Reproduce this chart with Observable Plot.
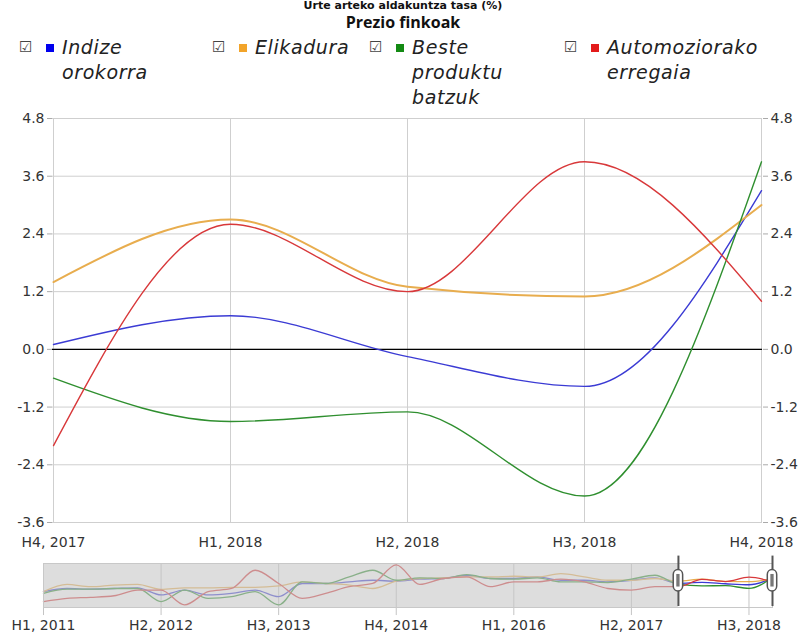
<!DOCTYPE html>
<html><head><meta charset="utf-8">
<script src="https://cdn.jsdelivr.net/npm/d3@7"></script>
<script src="https://cdn.jsdelivr.net/npm/@observablehq/plot@0.6"></script>
<style>
body{margin:0;width:806px;height:637px;overflow:hidden;background:#fff;position:relative;font-family:"DejaVu Sans",Verdana,sans-serif;}
#title{position:absolute;left:0;width:806px;top:0px;text-align:center;font:bold 11px/12px "DejaVu Sans";color:#111;white-space:nowrap;}
#subtitle{position:absolute;left:0;width:806px;top:13px;text-align:center;font:bold 16px/18px "Open Sans";color:#111;}
.leg{position:absolute;top:35px;font:italic 19px "DejaVu Sans";letter-spacing:0.6px;line-height:25px;color:#222;}
.leg .cb{position:absolute;left:-3px;top:3px;font:normal 15px "DejaVu Sans";color:#444;letter-spacing:0;}
.leg .sq{position:absolute;left:24px;top:9px;width:8px;height:8px;}
.leg .tx{position:absolute;left:40px;top:0;white-space:nowrap;}
#main{position:absolute;left:0;top:110px;}
#nav{position:absolute;left:0;top:548px;}
</style></head><body>
<div id="title">Urte arteko aldakuntza tasa (%)</div>
<div id="subtitle">Prezio finkoak</div>
<div id="legend"></div>
<div id="main"></div>
<div id="nav"></div>
<script>
// ---- data ----
const seriesNames = ["Indize orokorra","Elikadura","Beste produktu batzuk","Automoziorako erregaia"];
const legendLines = [["Indize","orokorra"],["Elikadura"],["Beste","produktu","batzuk"],["Automoziorako","erregaia"]];
const lineColors = ["#3b3bd4","#e8ad4e","#2f8f2f","#d8383a"];
const swatchColors = ["#0000ee","#f2a42a","#138a13","#e31b1b"];
const lineWidths = [1.4, 2, 1.4, 1.4];

const periods = ["H4, 2017","H1, 2018","H2, 2018","H3, 2018","H4, 2018"];
const indize    = [0.1, 0.7, -0.15, -0.77, 3.3];
const elikadura = [1.4, 2.7, 1.3, 1.1, 3.0];
const beste     = [-0.6, -1.5, -1.3, -3.05, 3.9];
const erregaia  = [-2.0, 2.6, 1.2, 3.9, 1.0];
const yTicks = [-3.6, -2.4, -1.2, 0, 1.2, 2.4, 3.6, 4.8];

// navigator (H1 2011 ... H4 2018, quarterly)
const navIndize    = [-5.1,-3.1,-3.5,-3.1,-2.7,-7.1,-4.1,-7.1,-6.1,-4.1,-8.2,0,0,1.0,2.0,1.4,2.7,3.1,5.1,3.1,3.1,4.1,2.0,2.0,1.0,2.0,3.5,0.1,0.7,-0.15,-0.77,3.3];
const navElikadura = [-5.1,-0.6,-2.0,-1.0,-0.6,-3.7,-2.7,-2.7,-2.4,-2.4,-1.5,1.0,0,-1.0,-3.1,1.4,3.1,3.5,4.1,4.1,4.5,4.1,6.1,4.1,2.0,2.0,3.1,1.4,2.7,1.3,1.1,3.0];
const navBeste     = [-6.1,-3.5,-3.5,-3.1,-3.1,-11.2,-4.1,-9.2,-8.2,-5.1,-13.3,1.0,0,4.1,8.2,2.0,3.5,3.1,5.5,3.1,2.7,3.5,1.0,1.0,0.6,2.7,5.1,-0.6,-1.5,-1.3,-3.05,3.9];
const navErregaia  = [-11.2,-9.2,-8.6,-7.6,-4.1,-4.1,-13.3,-5.1,-3.1,8.2,0,-9.2,-6.1,-2.0,0,11.6,-0.6,3.1,4.1,-2.0,1.0,1.0,2.7,1.0,-3.1,-4.1,-2.0,-2.0,2.6,1.2,3.9,1.0];
const navTickIndex  = [0,5,10,15,20,25,30];
const navTickLabels = ["H1, 2011","H2, 2012","H3, 2013","H4, 2014","H1, 2016","H2, 2017","H3, 2018"];
const navDomain = [-14.9, 12.4];
const windowRange = [27, 31];

// ---- legend ----
const legendX = [22, 215, 372, 567];
const legend = document.getElementById("legend");
seriesNames.forEach((n, i) => {
  const d = document.createElement("div");
  d.className = "leg";
  d.style.left = legendX[i] + "px";
  d.innerHTML = `<span class="cb">☑</span><span class="sq" style="background:${swatchColors[i]}"></span><span class="tx">${legendLines[i].join("<br>")}</span>`;
  legend.appendChild(d);
});

// ---- main chart ----
const mainSeries = [indize, elikadura, beste, erregaia];
const fmt = d => d.toFixed(1);
const colorScale = {domain: seriesNames, range: lineColors};

const seriesLines = mainSeries.map((arr, s) =>
  Plot.line(arr.map((v, j) => ({series: seriesNames[s], period: periods[j], value: v})),
    {x: "period", y: "value", stroke: "series", curve: "monotone-x", strokeWidth: lineWidths[s]}));

const main = Plot.plot({
  width: 806, height: 445,
  marginLeft: 52, marginRight: 44, marginTop: 8, marginBottom: 33,
  x: {type: "point", domain: periods, padding: 0},
  y: {domain: [-3.6, 4.8]},
  color: colorScale,
  style: {fontFamily: "DejaVu Sans", fontSize: "14px", color: "#333", overflow: "visible"},
  marks: [
    Plot.gridY(yTicks, {stroke: "#cfcfcf", strokeOpacity: 1}),
    Plot.gridX(periods, {stroke: "#cfcfcf", strokeOpacity: 1}),
    Plot.ruleY([0], {stroke: "#000", strokeWidth: 1.2}),
    Plot.axisY(yTicks, {anchor: "left", tickFormat: fmt, tickSize: 5, tickPadding: 3, stroke: "#aaa", fill: "#333", label: null}),
    Plot.axisY(yTicks, {anchor: "right", tickFormat: fmt, tickSize: 5, tickPadding: 3, stroke: "#aaa", fill: "#333", label: null}),
    Plot.axisX(periods, {tickSize: 0, tickPadding: 15, fill: "#333", label: null}),
    ...seriesLines
  ]
});
document.getElementById("main").appendChild(main);

// ---- navigator ----
const navSeries = [navIndize, navElikadura, navBeste, navErregaia];
const navRows = navSeries.flatMap((arr, s) => arr.map((v, j) => ({series: seriesNames[s], i: j, value: v})));
const nav = Plot.plot({
  width: 806, height: 89,
  marginLeft: 43, marginRight: 34, marginTop: 15, marginBottom: 30,
  x: {domain: [0, 31]},
  y: {domain: navDomain, axis: null},
  color: colorScale,
  style: {fontFamily: "DejaVu Sans", fontSize: "14px", color: "#333", overflow: "visible"},
  marks: [
    Plot.ruleX(navTickIndex, {y1: navDomain[0] - 5, y2: navDomain[1], stroke: "#c4c4c4", clip: false}),
    Plot.line(navRows, {x: "i", y: "value", z: "series", stroke: "series", curve: "monotone-x", strokeWidth: 1.3}),
    Plot.rect([0], {x1: 0, x2: windowRange[0], y1: navDomain[0], y2: navDomain[1], fill: "#c6c6c6", fillOpacity: 0.6}),
    Plot.frame({stroke: "#c8c8c8"}),
    Plot.axisX(navTickIndex, {tickSize: 0, tickPadding: 13, tickFormat: (d, k) => navTickLabels[k], fill: "#333", label: null}),
    Plot.ruleX(windowRange, {y1: navDomain[0] + 0.6, y2: navDomain[1] + 4.6, stroke: "#555", strokeWidth: 2, clip: false}),
    Plot.rect(windowRange, {x1: d => d - 0.2, x2: d => d + 0.2, y1: -5.0, y2: 8.4, fill: "#fff", stroke: "#555", strokeWidth: 1.5, rx: 5}),
    Plot.rect(windowRange, {x1: d => d - 0.07, x2: d => d + 0.07, y1: -2.2, y2: 5.6, fill: "#777"})
  ]
});
document.getElementById("nav").appendChild(nav);
</script>
</body></html>
